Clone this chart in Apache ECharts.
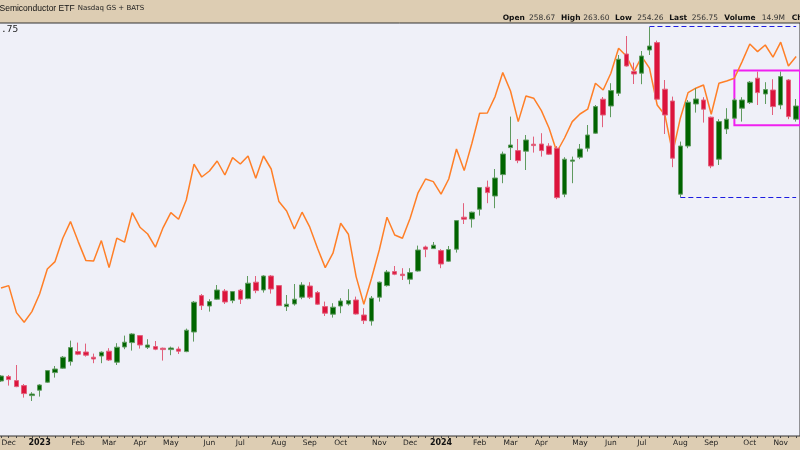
<!DOCTYPE html>
<html><head><meta charset="utf-8">
<script src="https://cdn.jsdelivr.net/npm/echarts@6/dist/echarts.min.js"></script>
<style>html,body{margin:0;padding:0;background:#ddcdb3}#c{width:800px;height:450px}</style>
</head><body><div id="c"></div>
<script>
// ---- data ----
const weeks = [
'2022-11-28','2022-12-05','2022-12-12','2022-12-19','2022-12-26',
'2023-01-02','2023-01-09','2023-01-16','2023-01-23','2023-01-30','2023-02-06','2023-02-13','2023-02-20','2023-02-27',
'2023-03-06','2023-03-13','2023-03-20','2023-03-27','2023-04-03','2023-04-10','2023-04-17','2023-04-24',
'2023-05-01','2023-05-08','2023-05-15','2023-05-22','2023-05-29','2023-06-05','2023-06-12','2023-06-19','2023-06-26',
'2023-07-03','2023-07-10','2023-07-17','2023-07-24','2023-07-31','2023-08-07','2023-08-14','2023-08-21','2023-08-28',
'2023-09-04','2023-09-11','2023-09-18','2023-09-25','2023-10-02','2023-10-09','2023-10-16','2023-10-23','2023-10-30',
'2023-11-06','2023-11-13','2023-11-20','2023-11-27','2023-12-04','2023-12-11','2023-12-18','2023-12-25',
'2024-01-01','2024-01-08','2024-01-15','2024-01-22','2024-01-29','2024-02-05','2024-02-12','2024-02-19','2024-02-26',
'2024-03-04','2024-03-11','2024-03-18','2024-03-25','2024-04-01','2024-04-08','2024-04-15','2024-04-22','2024-04-29',
'2024-05-06','2024-05-13','2024-05-20','2024-05-27','2024-06-03','2024-06-10','2024-06-17','2024-06-24',
'2024-07-01','2024-07-08','2024-07-15','2024-07-22','2024-07-29','2024-08-05','2024-08-12','2024-08-19','2024-08-26',
'2024-09-02','2024-09-09','2024-09-16','2024-09-23','2024-09-30','2024-10-07','2024-10-14','2024-10-21','2024-10-28',
'2024-11-04','2024-11-11','2024-11-18'];
const opens = [106.0,108.2,106.2,103.7,98.7,101.4,105.4,110.2,112.4,115.7,
120.7,120.5,117.9,118.5,120.9,115.4,123.0,125.2,128.7,122.9,
123.2,122.4,121.7,122.0,120.7,130.5,148.7,143.5,146.9,151.0,
146.2,151.4,147.2,155.4,151.5,158.5,153.7,143.2,144.5,147.9,
153.5,150.2,143.2,139.4,143.5,144.5,146.5,139.0,136.0,147.9,
153.7,160.7,159.4,156.9,161.0,173.0,172.2,171.2,165.9,171.9,
187.9,187.0,191.9,202.9,198.5,209.2,222.7,221.2,220.9,224.4,
224.5,223.5,222.4,199.4,215.9,217.9,222.4,229.9,246.9,243.5,
249.9,269.5,260.7,259.9,271.5,275.2,251.9,246.0,199.4,223.5,
244.5,246.5,237.9,216.9,232.0,237.4,242.4,245.2,257.4,249.5,
251.5,244.0,256.5,236.9];
const closes = [108.5,106.7,103.2,99.7,99.5,104.0,111.2,112.0,117.9,122.7,
119.4,118.9,117.0,120.4,116.5,122.9,125.4,129.5,124.0,124.0,
121.9,121.7,122.5,120.9,131.4,145.4,143.7,145.7,151.5,145.5,
150.7,146.9,154.9,151.2,158.5,152.0,143.7,144.4,146.9,154.0,
147.9,144.4,139.9,142.9,146.0,146.2,139.5,136.2,147.4,155.4,
160.5,159.4,158.7,160.2,171.5,171.9,173.9,164.5,171.7,186.2,
186.9,190.4,202.7,200.2,207.5,219.5,224.0,216.2,226.5,223.7,
221.2,219.4,197.7,216.9,216.5,222.0,229.0,243.2,239.0,251.2,
266.9,263.5,259.5,268.5,273.5,246.9,239.0,217.4,223.5,245.4,
247.0,241.9,213.5,235.7,236.9,246.5,246.5,255.4,250.2,251.7,
243.2,258.2,238.2,243.5];
const lows = [105.5,103.7,102.9,97.7,96.0,98.2,105.0,107.7,112.0,113.7,
118.9,118.2,114.9,114.9,116.0,114.0,121.9,121.2,122.2,122.0,
121.4,116.2,118.9,119.5,120.4,125.7,141.5,140.7,146.5,144.5,
144.9,144.5,146.9,149.9,150.2,149.7,143.5,141.0,143.7,146.9,
147.0,144.0,138.5,137.7,139.9,143.7,139.2,134.5,133.7,145.7,
153.2,158.9,156.5,154.4,160.7,167.9,172.0,162.4,165.5,170.2,
184.5,182.7,188.7,194.9,192.4,204.9,216.5,214.9,211.5,220.2,
218.2,219.0,196.9,197.9,204.9,216.9,220.7,229.5,232.9,237.9,
248.5,263.2,254.5,254.4,269.0,246.5,229.5,212.9,198.0,222.4,
240.2,235.2,212.4,214.0,229.5,236.9,235.7,244.5,244.0,244.5,
239.0,241.9,236.9,235.7];
const highs = [109.0,109.0,114.0,104.5,100.4,104.4,111.5,113.5,118.5,126.2,
125.2,124.7,119.7,120.8,122.4,124.9,128.7,129.9,129.0,126.9,
126.0,122.7,123.2,123.2,132.2,146.0,149.5,146.9,154.0,152.0,
151.0,152.0,158.5,158.5,158.9,159.0,154.0,149.0,154.5,155.4,
155.4,151.0,145.7,144.9,147.4,151.9,148.2,142.4,148.5,155.7,
161.5,163.5,162.4,162.4,173.7,173.7,175.5,171.9,173.5,186.5,
194.9,190.7,202.9,206.2,212.0,220.7,238.2,227.0,229.0,228.2,
229.9,224.9,223.5,217.9,218.2,224.5,234.0,244.0,248.0,254.9,
269.0,278.5,265.2,271.0,283.0,276.2,256.5,248.2,225.7,246.5,
252.4,247.9,238.2,236.9,242.4,247.4,247.9,256.0,260.7,255.4,
256.9,260.7,257.0,247.0];
const compare = [152.5,153.7,140.2,135.4,140.7,149.5,162.0,165.7,177.4,185.7,
175.7,166.2,166.0,176.2,162.7,177.4,175.4,190.2,182.9,179.5,
172.9,182.7,190.2,186.9,196.5,214.4,208.0,211.0,216.0,209.0,
217.7,214.5,218.5,207.4,218.5,212.0,195.7,191.0,182.0,190.4,
182.9,172.4,162.7,169.9,184.9,179.4,158.2,144.4,157.4,171.5,
187.9,179.0,177.4,187.4,199.9,207.0,205.7,199.4,207.0,222.0,
211.2,224.9,239.9,240.0,248.2,260.2,251.0,235.7,248.5,247.4,
241.2,232.4,220.5,227.5,235.7,239.5,241.9,254.9,251.5,259.9,
272.4,268.5,260.7,268.2,262.4,244.0,239.0,219.9,237.4,250.2,
252.4,254.0,239.4,254.9,256.0,257.4,265.7,274.5,270.7,274.0,
267.9,275.4,263.5,268.2];
const resistance = {from: 84, level: 283.25};
const support = {from: 88, level: 197.75};
const rangeBox = {from: 95, top: 261.2, bottom: 233.9};
const titleText = 'Semiconductor ETF';
const exchangeText = 'Nasdaq GS + BATS';
const quoteLabels = ['Open','High','Low','Last','Volume','Chg'];
const quoteValues = ['258.67','263.60','254.26','256.75','14.9M',''];
const cornerText = '.75';
const monthNames = ['Jan','Feb','Mar','Apr','May','Jun','Jul','Aug','Sep','Oct','Nov','Dec'];

// ---- layout ----
const quoteLabelX = [502.7, 561, 615, 669.3, 724.3, 791.7];
const quoteValueX = [529, 583.3, 637.3, 691.7, 761.7, 810];

const candles = weeks.map((w,i)=>[opens[i], closes[i], lows[i], highs[i]]);
function isMonthStart(i){ return i>0 && weeks[i].slice(5,7)!==weeks[i-1].slice(5,7); }
function levelSegment(lv){ const last = weeks.length-1; return [[weeks[lv.from], lv.level],[weeks[last], lv.level]]; }

const graphics = [
  {type:'text', x:-0.5, y:8.5, style:{text:titleText, font:'8.5px "Liberation Sans"', fill:'#111', verticalAlign:'middle'}},
  {type:'text', x:77.7, y:8.5, style:{text:exchangeText, font:'7px "DejaVu Sans"', fill:'#222', verticalAlign:'middle'}},
  {type:'text', x:1, y:29.5, z:10, style:{text:cornerText, font:'9.5px "DejaVu Sans Mono"', fill:'#222', verticalAlign:'middle'}}
];
quoteLabels.forEach((t,i)=>{
  graphics.push({type:'text', x:quoteLabelX[i], y:18.5, style:{text:t, font:'bold 7.5px "DejaVu Sans"', fill:'#111', verticalAlign:'middle'}});
  if (quoteValues[i]) graphics.push({type:'text', x:quoteValueX[i], y:18.5, style:{text:quoteValues[i], font:'7.5px "DejaVu Sans"', fill:'#333', verticalAlign:'middle'}});
});

const dashStyle = {color:'#1c1ce0', type:[5,3], width:1};
const chart = echarts.init(document.getElementById('c'), null, {renderer:'canvas'});
chart.setOption({
  animation:false,
  backgroundColor:'#ddcdb3',
  grid:{left:-2.86, right:0, top:23, bottom:14, show:true, backgroundColor:'#eff0f8', borderColor:'#333', borderWidth:1, containLabel:false, outerBoundsMode:'none'},
  xAxis:{type:'category', data:weeks, boundaryGap:true,
    axisLine:{show:false},
    axisTick:{show:true, alignWithLabel:true, interval:0, length:2, lineStyle:{color:'#444'}},
    axisLabel:{interval:(i)=>isMonthStart(i), margin:3, color:'#222', fontFamily:'DejaVu Sans', fontSize:7.5,
      formatter:(v)=>{const m=+v.slice(5,7); return m===1?'{y|'+v.slice(0,4)+'}':monthNames[m-1];},
      rich:{y:{fontWeight:'bold', fontSize:8, fontFamily:'DejaVu Sans', color:'#111'}}},
    splitLine:{show:false}},
  yAxis:{type:'value', min:78.5, max:285, show:false, splitLine:{show:false}},
  graphic:graphics,
  series:[
    {type:'line', data:compare, showSymbol:false, z:1, lineStyle:{color:'#ff7f27', width:1.5}, silent:true},
    {type:'line', data:levelSegment(resistance), showSymbol:false, z:2, lineStyle:dashStyle, silent:true},
    {type:'line', data:levelSegment(support), showSymbol:false, z:2, lineStyle:dashStyle, silent:true},
    {type:'candlestick', data:candles, z:3, barWidth:5,
      itemStyle:{color:'#006400', color0:'#dc143c', borderColor:'#5f9a5f', borderColor0:'#e2607c', borderWidth:1},
      markArea:{silent:true, itemStyle:{color:'rgba(0,0,0,0)', borderColor:'#f020f0', borderWidth:2},
        data:[[{xAxis:weeks[rangeBox.from], yAxis:rangeBox.top},{yAxis:rangeBox.bottom}]]}
    }
  ]
});
</script></body></html>
